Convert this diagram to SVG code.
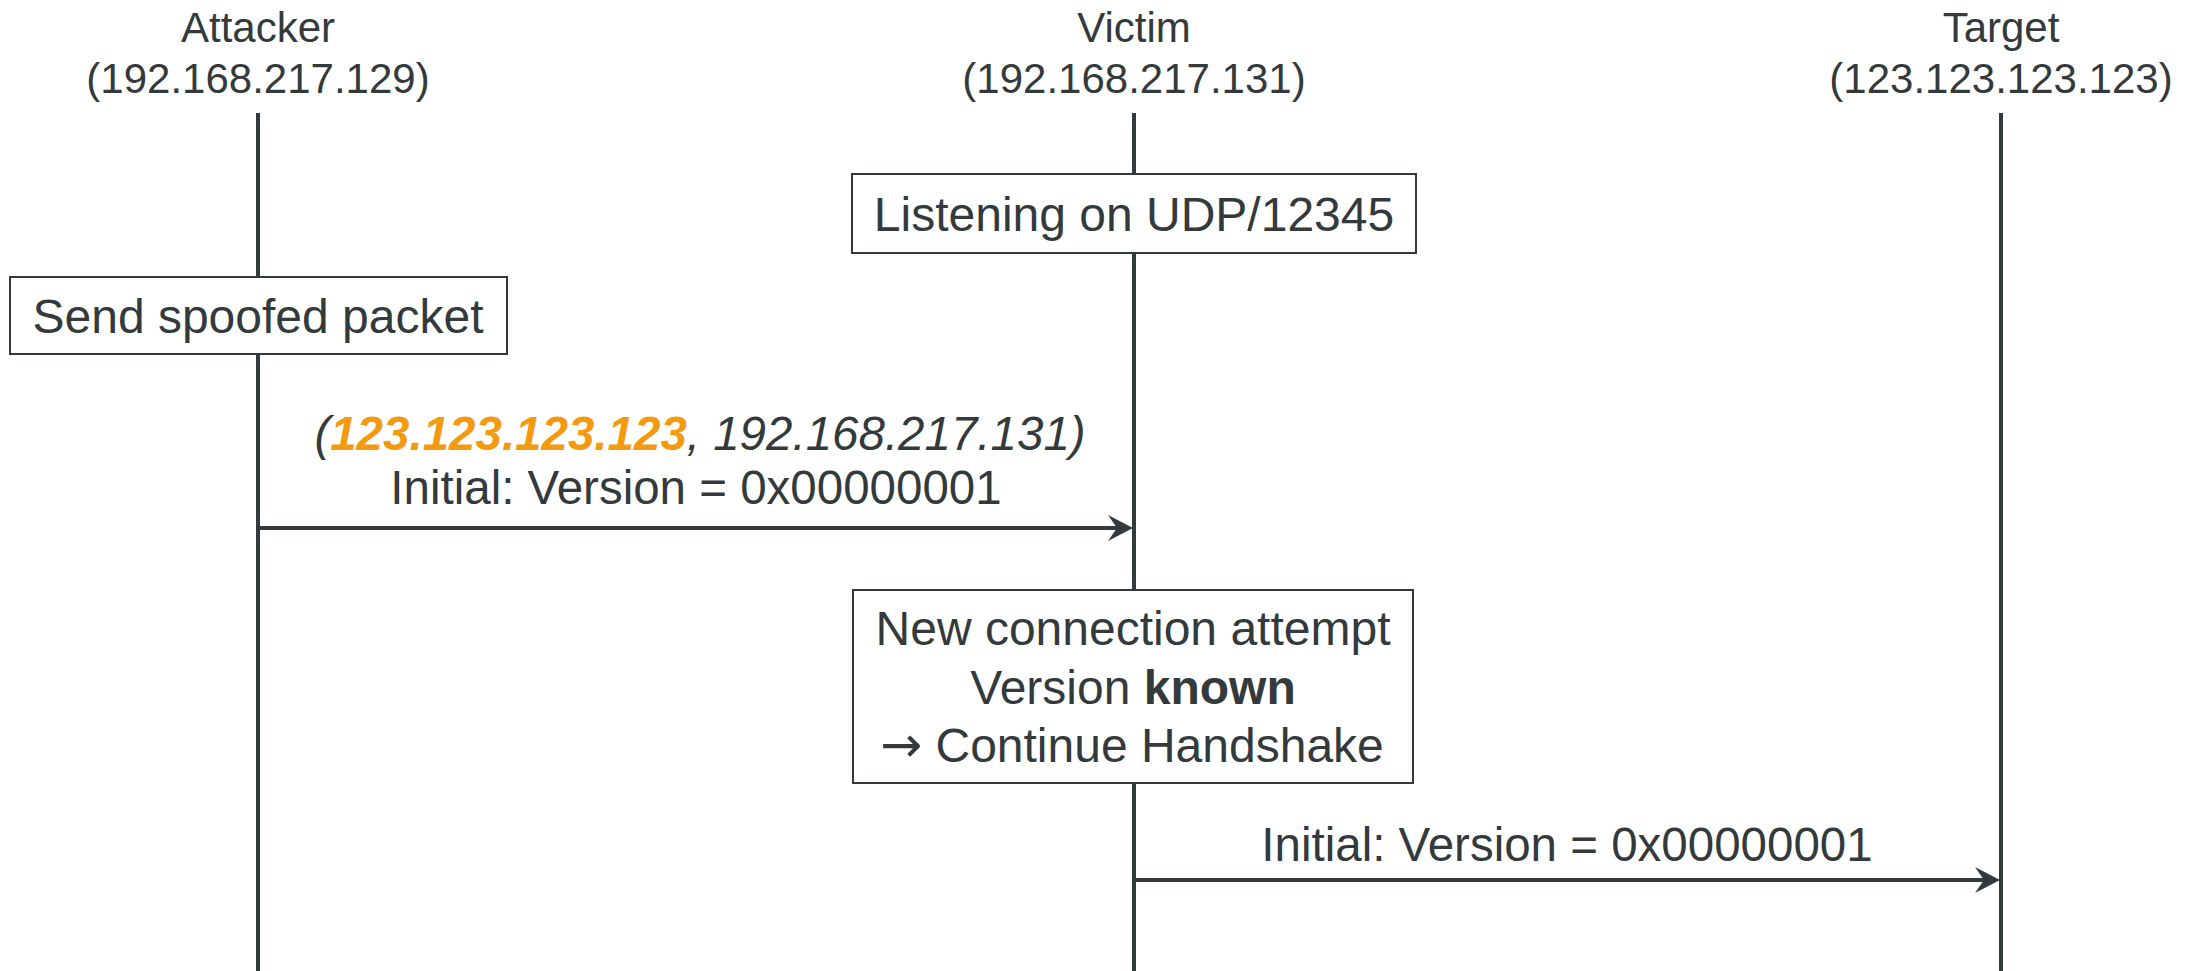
<svg xmlns="http://www.w3.org/2000/svg" width="2192" height="971" viewBox="0 0 2192 971">
<style>
text{font-family:"Liberation Sans",Arial,sans-serif;fill:#343a3c;text-anchor:middle}
.hd{font-size:42px}
.bx{font-size:48px}
.lb{font-size:47.5px}
.life{stroke:#343a3c;stroke-width:4;fill:none}
.box{fill:#ffffff;stroke:#343a3c;stroke-width:2}
.msg{stroke:#343a3c;stroke-width:4;fill:none}
.head{fill:#343a3c}
</style>
<g id="lifelines">
<line class="life" x1="258" y1="113" x2="258" y2="971"/>
<line class="life" x1="1134" y1="113" x2="1134" y2="971"/>
<line class="life" x1="2001" y1="113" x2="2001" y2="971"/>
</g>
<g id="attacker">
<text class="hd" x="258" y="42">Attacker</text>
<text class="hd" x="258" y="93">(192.168.217.129)</text>
</g>
<g id="victim">
<text class="hd" x="1134" y="42">Victim</text>
<text class="hd" x="1134" y="93">(192.168.217.131)</text>
</g>
<g id="target">
<text class="hd" x="2001" y="42">Target</text>
<text class="hd" x="2001" y="93">(123.123.123.123)</text>
</g>
<g id="listening">
<rect class="box" x="852" y="174" width="564" height="79"/>
<text class="bx" x="1134" y="231">Listening on UDP/12345</text>
</g>
<g id="send-spoofed">
<rect class="box" x="10" y="277" width="497" height="77"/>
<text class="bx" x="258" y="333">Send spoofed packet</text>
</g>
<g id="new-connection">
<rect class="box" x="853" y="590" width="560" height="193"/>
<text class="bx" x="1133" y="645">New connection attempt</text>
<text class="bx" x="1133" y="704">Version <tspan font-weight="bold">known</tspan></text>
<text class="bx" x="1132" y="762"><tspan style="font-family:'DejaVu Sans',sans-serif" font-size="50">→</tspan> Continue Handshake</text>
</g>
<g id="connectors">
<line class="msg" x1="258" y1="528" x2="1125" y2="528"/>
<path class="head" d="M1108,515 L1133,528 L1108,541 L1117,528 Z"/>
<text class="lb" x="700" y="450" font-style="italic">(<tspan font-weight="bold" style="fill:#f39a10">123.123.123.123</tspan>, 192.168.217.131)</text>
<text class="lb" x="696" y="504">Initial: Version = 0x00000001</text>
<line class="msg" x1="1134" y1="880" x2="1992" y2="880"/>
<path class="head" d="M1975,867 L2000,880 L1975,893 L1984,880 Z"/>
<text class="lb" x="1567" y="861">Initial: Version = 0x00000001</text>
</g>
</svg>
